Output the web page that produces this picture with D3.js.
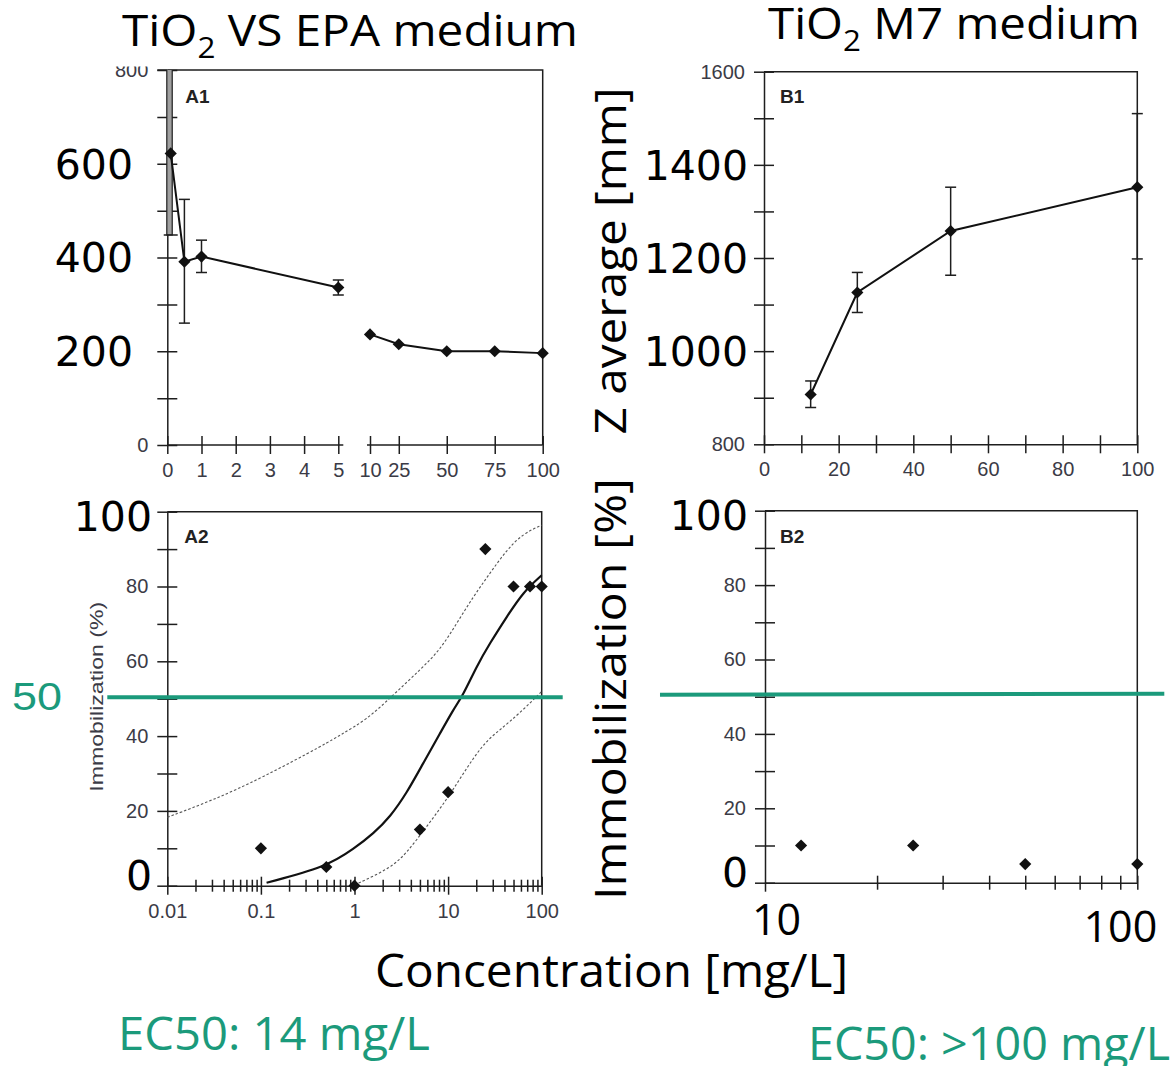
<!DOCTYPE html>
<html>
<head>
<meta charset="utf-8">
<script src="https://cdn.jsdelivr.net/npm/d3@7"></script>
<style>
  body { margin: 0; background: #fff; }
  .tick-label { font-family: "Liberation Sans", Arial, sans-serif; font-size: 20px; fill: #3b3b46; }
  .big-num { font-family: "DejaVu Sans", Verdana, sans-serif; font-size: 41px; fill: #000; }
  .big-text { font-family: "Open Sans", "Noto Sans", sans-serif; fill: #000; }
  .panel-label { font-family: "Liberation Sans", Arial, sans-serif; font-size: 19px; font-weight: bold; fill: #222; }
</style>
</head>
<body>
<div class="chart"></div>
<script>
// canvas
var svgWidth = 1174;
var svgHeight = 1066;
var ink = "#1e1e1e";
var green = "#1b9a7b";

// A1 - Z average in VS EPA medium (broken x axis)
var a1Conc = [0.1, 0.5, 1, 5, 10, 25, 50, 75, 100];
var a1Z = [622, 391, 402, 336, 236, 215, 200, 200, 196];
var a1ErrLow = [448, 260, 368, 320, null, null, null, null, null];
var a1ErrHigh = [880, 524, 437, 352, null, null, null, null, null];
var a1TicksLeft = [0, 1, 2, 3, 4, 5];
var a1TicksRight = [10, 25, 50, 75, 100];
var a1SmallLabels = [0, 800];
var a1BigLabels = [600, 400, 200];

// B1 - Z average in M7 medium
var b1Conc = [12.5, 25, 50, 100];
var b1Z = [907, 1126, 1258, 1352];
var b1ErrLow = [879, 1083, 1163, 1198];
var b1ErrHigh = [936, 1169, 1352, 1510];
var b1SmallLabels = [1600, 800];
var b1BigLabels = [1400, 1200, 1000];

// A2 - immobilization in VS EPA medium
var a2Conc = [0.1, 0.5, 1, 5, 10, 25, 50, 75, 100];
var a2Immob = [10, 5, 0, 15, 25, 90, 80, 80, 80];
var a2FitConc = [0.115, 0.5, 1, 1.6, 2.4, 3.6, 5.4, 8.2, 11.3, 14.5, 20.1, 27.9, 42.3, 63.8, 100];
var a2FitVal = [0.8, 5, 10, 14, 18.4, 24.7, 32.7, 40.7, 47, 51, 58.6, 64.8, 71.9, 78.6, 83];
var a2UpperConc = [0.01, 0.031, 0.1, 0.5, 0.7, 1.34, 2.6, 5, 8.2, 12.4, 18.6, 27.9, 42.3, 63.8, 100];
var a2UpperVal = [18.3, 22.9, 28.7, 38, 40.3, 44.3, 51, 57.7, 63, 70.2, 77.3, 83.5, 89.8, 94.2, 96.4];
var a2LowerConc = [1, 2.4, 3.6, 5.9, 9.6, 14.5, 23.7, 35.5, 58, 100];
var a2LowerVal = [0.2, 4.6, 8.7, 15.8, 22.9, 30, 38, 41.6, 46.1, 51.9];
var a2MajorTicks = [0.01, 0.1, 1, 10, 100];
var a2SmallLabels = [20, 40, 60, 80];
var a2BigLabels = [100, 0];

// B2 - immobilization in M7 medium
var b2Conc = [12.5, 25, 50, 100];
var b2Immob = [10, 10, 5, 5];
var b2SmallLabels = [20, 40, 60, 80];
var b2BigLabels = [100, 0];
var b2BigXLabels = [10, 100];

var threshold = 50;

var svg = d3
    .select(".chart")
    .append("svg")
    .attr("width", svgWidth)
    .attr("height", svgHeight)
    .style("background", "#fff");

var defs = svg.append("defs");

// helpers
function styleAxis(g, dir, half) {
    g.select(".domain").attr("stroke", ink).attr("stroke-width", 1.5);
    g.selectAll(".tick line").attr("stroke", ink).attr("stroke-width", 1.5);
    if (dir === "x") {
        g.selectAll(".tick line").attr("y1", -half).attr("y2", half);
    } else {
        g.selectAll(".tick line").attr("x1", -half).attr("x2", half);
    }
    g.selectAll(".tick text")
        .attr("class", "tick-label")
        .attr("fill", null)
        .style("font-size", "20px");
    g.attr("font-family", null).attr("font-size", null);
}

function frame(g, x0, x1, y0, y1) {
    // top and right borders of a panel
    g.append("path")
        .attr("d", "M" + x0 + "," + y1 + "H" + x1 + "V" + y0)
        .attr("fill", "none")
        .attr("stroke", ink)
        .attr("stroke-width", 1.5);
}

var diamond = d3.symbol().type(d3.symbolSquare).size(74);

function drawDiamonds(g, xs, ys, xf, yf) {
    g.selectAll(null)
        .data(xs)
        .enter()
        .append("path")
        .attr("d", diamond)
        .attr("transform", function(d, i) {
            return "translate(" + xf(d) + "," + yf(ys[i]) + ") rotate(45)";
        })
        .attr("fill", "#111");
}

function drawErrors(g, xs, lows, highs, xf, yf) {
    xs.forEach(function(c, i) {
        if (lows[i] === null) return;
        var x = xf(c);
        g.append("line")
            .attr("x1", x).attr("x2", x)
            .attr("y1", yf(lows[i])).attr("y2", yf(highs[i]))
            .attr("stroke", ink).attr("stroke-width", 1.5);
        [lows[i], highs[i]].forEach(function(v) {
            g.append("line")
                .attr("x1", x - 5.5).attr("x2", x + 5.5)
                .attr("y1", yf(v)).attr("y2", yf(v))
                .attr("stroke", ink).attr("stroke-width", 1.5);
        });
    });
}

function bigYLabels(g, values, yf, xRight) {
    var dom = yf.domain();
    g.selectAll(null)
        .data(values)
        .enter()
        .append("text")
        .attr("class", "big-num")
        .attr("x", xRight)
        .attr("y", function(d) {
            var shift = d === dom[0] ? -10 : (d === dom[1] ? 5 : 0);
            return yf(d) + shift;
        })
        .attr("dy", "0.36em")
        .attr("text-anchor", "end")
        .text(function(d) { return d; });
}

// ---------------- Panel A1 ----------------
var a1 = svg.append("g");
var a1Y = d3.scaleLinear().domain([0, 800]).range([445, 70]);
var a1XLeft = d3.scaleLinear().domain([0, 5]).range([167.3, 338.3]);
var a1XRight = d3.scaleLinear().domain([10, 100]).range([370, 542.7]);
function a1X(v) { return v <= 5 ? a1XLeft(v) : a1XRight(v); }

// the 800 label is cut at the top in the original figure
defs.append("clipPath").attr("id", "clipA1Axis")
    .append("rect").attr("x", -200).attr("y", 66.5).attr("width", 600).attr("height", 420);
defs.append("clipPath").attr("id", "clipA1Plot")
    .append("rect").attr("x", 150).attr("y", a1Y(800)).attr("width", 420).attr("height", a1Y(0) - a1Y(800));

frame(a1, a1XLeft(0), a1XRight(100), a1Y(0), a1Y(800));

var a1LeftAxis = d3.axisLeft(a1Y)
    .tickValues(d3.range(0, 801, 100))
    .tickFormat(function(d) { return a1SmallLabels.indexOf(d) >= 0 ? d : ""; })
    .tickSize(10).tickPadding(9).tickSizeOuter(0);
var a1YAxis = a1.append("g")
    .attr("transform", "translate(" + a1XLeft(0) + ",0)")
    .attr("clip-path", "url(#clipA1Axis)")
    .call(a1LeftAxis);
styleAxis(a1YAxis, "y", 10);
a1.append("line")
    .attr("x1", a1XLeft(0) - 10).attr("x2", a1XLeft(0))
    .attr("y1", a1Y(800)).attr("y2", a1Y(800))
    .attr("stroke", ink).attr("stroke-width", 1.5);

var a1XAxisL = a1.append("g")
    .attr("transform", "translate(0," + a1Y(0) + ")")
    .call(d3.axisBottom(a1XLeft).tickValues(a1TicksLeft).tickFormat(d3.format("d"))
        .tickSize(9).tickPadding(9).tickSizeOuter(0));
styleAxis(a1XAxisL, "x", 9);
a1XAxisL.select(".domain").attr("d", "M" + a1XLeft(0) + ",0H" + (a1XLeft(5) + 5));

var a1XAxisR = a1.append("g")
    .attr("transform", "translate(0," + a1Y(0) + ")")
    .call(d3.axisBottom(a1XRight).tickValues(a1TicksRight).tickFormat(d3.format("d"))
        .tickSize(9).tickPadding(9).tickSizeOuter(0));
styleAxis(a1XAxisR, "x", 9);
a1XAxisR.select(".domain").attr("d", "M" + (a1XRight(10) - 3) + ",0H" + a1XRight(100));

// error bars (the one hugging the axis is drawn as a grey strip)
var a1Err = a1.append("g").attr("clip-path", "url(#clipA1Plot)");
function nearAxis(c) { return a1X(c) - a1XLeft(0) < 6; }
a1Conc.forEach(function(c, i) {
    if (a1ErrLow[i] === null || !nearAxis(c)) return;
    a1Err.append("rect")
        .attr("x", a1XLeft(0) - 0.5)
        .attr("y", a1Y(a1ErrHigh[i]))
        .attr("width", a1X(c) - a1XLeft(0) + 2)
        .attr("height", a1Y(a1ErrLow[i]) - a1Y(a1ErrHigh[i]))
        .attr("fill", "#a0a0a0")
        .attr("stroke", ink)
        .attr("stroke-width", 1.2);
    a1Err.append("line")
        .attr("x1", a1X(c) - 7).attr("x2", a1X(c) + 7)
        .attr("y1", a1Y(a1ErrLow[i])).attr("y2", a1Y(a1ErrLow[i]))
        .attr("stroke", ink).attr("stroke-width", 1.5);
});
var a1Keep = a1Conc.map(function(c, i) { return a1ErrLow[i] !== null && !nearAxis(c); });
drawErrors(a1Err,
    a1Conc.filter(function(c, i) { return a1Keep[i]; }),
    a1ErrLow.filter(function(v, i) { return a1Keep[i]; }),
    a1ErrHigh.filter(function(v, i) { return a1Keep[i]; }),
    a1X, a1Y);

var a1Line = d3.line()
    .x(function(d) { return a1X(d[0]); })
    .y(function(d) { return a1Y(d[1]); });
var a1Pairs = a1Conc.map(function(c, i) { return [c, a1Z[i]]; });
[a1Pairs.filter(function(d) { return d[0] <= 5; }), a1Pairs.filter(function(d) { return d[0] > 5; })]
    .forEach(function(seg) {
        a1.append("path")
            .attr("d", a1Line(seg))
            .attr("fill", "none")
            .attr("stroke", "#111")
            .attr("stroke-width", 2);
    });
drawDiamonds(a1, a1Conc, a1Z, a1X, a1Y);
bigYLabels(a1, a1BigLabels, a1Y, 133);
a1.append("text").attr("class", "panel-label")
    .attr("x", a1XLeft(0) + 18).attr("y", a1Y(800) + 33).text("A1");

// ---------------- Panel B1 ----------------
var b1 = svg.append("g");
var b1X = d3.scaleLinear().domain([0, 100]).range([764, 1137.3]);
var b1Y = d3.scaleLinear().domain([800, 1600]).range([444.3, 71.7]);

frame(b1, b1X(0), b1X(100), b1Y(800), b1Y(1600));

var b1YAxis = b1.append("g")
    .attr("transform", "translate(" + b1X(0) + ",0)")
    .call(d3.axisLeft(b1Y)
        .tickValues(d3.range(800, 1601, 100))
        .tickFormat(function(d) { return b1SmallLabels.indexOf(d) >= 0 ? d : ""; })
        .tickSize(10).tickPadding(9).tickSizeOuter(0));
styleAxis(b1YAxis, "y", 10);

var b1XAxis = b1.append("g")
    .attr("transform", "translate(0," + b1Y(800) + ")")
    .call(d3.axisBottom(b1X)
        .tickValues(d3.range(0, 101, 10))
        .tickFormat(function(d) { return d % 20 === 0 ? d : ""; })
        .tickSize(9).tickPadding(9).tickSizeOuter(0));
styleAxis(b1XAxis, "x", 9);

drawErrors(b1, b1Conc, b1ErrLow, b1ErrHigh, b1X, b1Y);
b1.append("path")
    .attr("d", d3.line()
        .x(function(d) { return b1X(d); })
        .y(function(d, i) { return b1Y(b1Z[i]); })(b1Conc))
    .attr("fill", "none")
    .attr("stroke", "#111")
    .attr("stroke-width", 2);
drawDiamonds(b1, b1Conc, b1Z, b1X, b1Y);
bigYLabels(b1, b1BigLabels, b1Y, 748);
b1.append("text").attr("class", "panel-label")
    .attr("x", b1X(0) + 16).attr("y", b1Y(1600) + 31).text("B1");

// ---------------- Panel A2 ----------------
var a2 = svg.append("g");
var a2X = d3.scaleLog().domain([0.01, 100]).range([167.3, 541.7]);
var a2Y = d3.scaleLinear().domain([0, 100]).range([885.7, 511.7]);

frame(a2, a2X(0.01), a2X(100), a2Y(0), a2Y(100));

var a2YAxis = a2.append("g")
    .attr("transform", "translate(" + a2X(0.01) + ",0)")
    .call(d3.axisLeft(a2Y)
        .tickValues(d3.range(0, 101, 10))
        .tickFormat(function(d) { return a2SmallLabels.indexOf(d) >= 0 ? d : ""; })
        .tickSize(10).tickPadding(9).tickSizeOuter(0));
styleAxis(a2YAxis, "y", 10);

var a2XAxis = a2.append("g")
    .attr("transform", "translate(0," + a2Y(0) + ")")
    .call(d3.axisBottom(a2X)
        .tickValues(a2X.ticks())
        .tickFormat(function(d) {
            return a2MajorTicks.indexOf(d) >= 0 ? String(d) : "";
        })
        .tickSize(9).tickPadding(9).tickSizeOuter(0));
styleAxis(a2XAxis, "x", 9);
a2XAxis.selectAll(".tick line")
    .filter(function(d) { return a2MajorTicks.indexOf(d) < 0; })
    .attr("y1", -6).attr("y2", 6);

var a2Line = d3.line()
    .x(function(d) { return a2X(d[0]); })
    .y(function(d) { return a2Y(d[1]); })
    .curve(d3.curveBasis);
function zipPairs(xs, ys) { return xs.map(function(x, i) { return [x, ys[i]]; }); }

[zipPairs(a2UpperConc, a2UpperVal), zipPairs(a2LowerConc, a2LowerVal)].forEach(function(band) {
    a2.append("path")
        .attr("d", a2Line(band))
        .attr("fill", "none")
        .attr("stroke", "#555")
        .attr("stroke-width", 1.1)
        .attr("stroke-dasharray", "2.5,2");
});
a2.append("path")
    .attr("d", a2Line(zipPairs(a2FitConc, a2FitVal)))
    .attr("fill", "none")
    .attr("stroke", "#111")
    .attr("stroke-width", 2.2);
drawDiamonds(a2, a2Conc, a2Immob, a2X, a2Y);
bigYLabels(a2, a2BigLabels, a2Y, 152);
a2.append("text").attr("class", "panel-label")
    .attr("x", a2X(0.01) + 17).attr("y", a2Y(100) + 31).text("A2");

// small y title of the original figure
a2.append("text")
    .attr("class", "tick-label")
    .attr("transform", "translate(103," + (a2Y(50) - 2) + ") rotate(-90)")
    .attr("text-anchor", "middle")
    .attr("textLength", 190)
    .attr("lengthAdjust", "spacingAndGlyphs")
    .style("font-size", "19px")
    .text("Immobilization (%)");

// 50 % line
a2.append("line")
    .attr("x1", a2X.range()[0] - 60).attr("x2", a2X.range()[1] + 21)
    .attr("y1", a2Y(threshold) - 1.5).attr("y2", a2Y(threshold) - 1.5)
    .attr("stroke", green).attr("stroke-width", 4);

// ---------------- Panel B2 ----------------
var b2 = svg.append("g");
var b2X = d3.scaleLog().domain([10, 100]).range([765, 1137.3]);
var b2Y = d3.scaleLinear().domain([0, 100]).range([882.7, 510.7]);

frame(b2, b2X(10), b2X(100), b2Y(0), b2Y(100));

var b2YAxis = b2.append("g")
    .attr("transform", "translate(" + b2X(10) + ",0)")
    .call(d3.axisLeft(b2Y)
        .tickValues(d3.range(0, 101, 10))
        .tickFormat(function(d) { return b2SmallLabels.indexOf(d) >= 0 ? d : ""; })
        .tickSize(10).tickPadding(9).tickSizeOuter(0));
styleAxis(b2YAxis, "y", 10);

var b2XAxis = b2.append("g")
    .attr("transform", "translate(0," + b2Y(0) + ")")
    .call(d3.axisBottom(b2X)
        .tickValues(b2X.ticks())
        .tickFormat("")
        .tickSize(7).tickSizeOuter(0));
styleAxis(b2XAxis, "x", 7);
b2XAxis.selectAll(".tick line")
    .filter(function(d) { return d === 10; })
    .attr("y1", 0).attr("y2", 9);

drawDiamonds(b2, b2Conc, b2Immob, b2X, b2Y);
bigYLabels(b2, b2BigLabels, b2Y, 748);
b2.append("text").attr("class", "panel-label")
    .attr("x", b2X(10) + 15).attr("y", b2Y(100) + 32).text("B2");

b2.selectAll(null)
    .data(b2BigXLabels)
    .enter()
    .append("text")
    .attr("class", "big-text")
    .style("font-size", "43px")
    .attr("x", function(d) { return d === 10 ? b2X(d) - 13 : b2X(d) + 20; })
    .attr("y", function(d) { return d === 10 ? 935 : 942; })
    .attr("text-anchor", function(d) { return d === 10 ? "start" : "end"; })
    .text(function(d) { return d; });

b2.append("line")
    .attr("x1", b2X.range()[0] - 105).attr("x2", b2X.range()[1] + 27)
    .attr("y1", b2Y(threshold) - 2).attr("y2", b2Y(threshold) - 3)
    .attr("stroke", green).attr("stroke-width", 4);

// ---------------- overlay texts ----------------
function titleText(x, y, len, pre, sub, post) {
    var t = svg.append("text")
        .attr("class", "big-text")
        .attr("x", x).attr("y", y)
        .attr("textLength", len)
        .attr("lengthAdjust", "spacingAndGlyphs")
        .style("font-size", "44px");
    t.append("tspan").text(pre);
    t.append("tspan").attr("dy", 12).style("font-size", "29px").text(sub);
    t.append("tspan").attr("dy", -12).text(post);
}
titleText(122, 46, 456, "TiO", "2", " VS EPA medium");
titleText(768, 39, 372, "TiO", "2", " M7 medium");

svg.append("text")
    .attr("class", "big-text")
    .attr("transform", "translate(626,261) rotate(-90)")
    .attr("text-anchor", "middle")
    .attr("textLength", 347)
    .attr("lengthAdjust", "spacingAndGlyphs")
    .style("font-size", "44px")
    .text("Z average [mm]");

svg.append("text")
    .attr("class", "big-text")
    .attr("transform", "translate(626,689) rotate(-90)")
    .attr("text-anchor", "middle")
    .attr("textLength", 422)
    .attr("lengthAdjust", "spacingAndGlyphs")
    .style("font-size", "44px")
    .text("Immobilization [%]");

svg.append("text")
    .attr("class", "big-text")
    .attr("x", 375).attr("y", 987)
    .attr("textLength", 473)
    .attr("lengthAdjust", "spacingAndGlyphs")
    .style("font-size", "46px")
    .text("Concentration [mg/L]");

svg.append("text")
    .attr("x", 12).attr("y", 710)
    .attr("textLength", 50)
    .attr("lengthAdjust", "spacingAndGlyphs")
    .style("fill", green)
    .style("font-family", "'Liberation Sans', Arial, sans-serif")
    .style("font-size", "39px")
    .text("50");

svg.append("text")
    .attr("class", "big-text")
    .attr("x", 118).attr("y", 1050)
    .attr("textLength", 312)
    .attr("lengthAdjust", "spacingAndGlyphs")
    .style("fill", green)
    .style("font-size", "46px")
    .text("EC50: 14 mg/L");

svg.append("text")
    .attr("class", "big-text")
    .attr("x", 808).attr("y", 1060)
    .attr("textLength", 362)
    .attr("lengthAdjust", "spacingAndGlyphs")
    .style("fill", green)
    .style("font-size", "46px")
    .text("EC50: >100 mg/L");
</script>
</body>
</html>
